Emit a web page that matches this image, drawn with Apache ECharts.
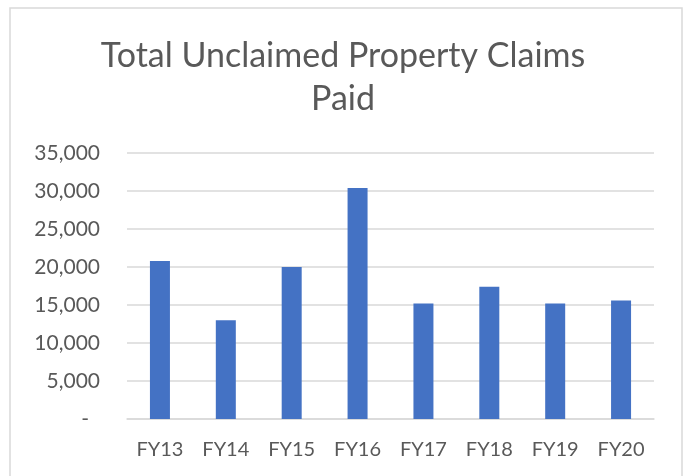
<!DOCTYPE html>
<html>
<head>
<meta charset="utf-8">
<script src="https://cdn.jsdelivr.net/npm/echarts@6/dist/echarts.min.js"></script>
<style>
  html, body { margin: 0; padding: 0; background: #fff; }
  #chart { width: 686px; height: 476px; }
</style>
</head>
<body>
<div id="chart"></div>
<script>
// data
var years = ['FY13', 'FY14', 'FY15', 'FY16', 'FY17', 'FY18', 'FY19', 'FY20']
var claimsPaid = [20800, 13000, 20000, 30400, 15200, 17400, 15200, 15600]
var yMax = 35000
var yStep = 5000

var textColor = '#595959'
var font = 'Lato, "Open Sans", sans-serif'

var chart = echarts.init(document.getElementById('chart'))

var option = {
  animation: false,
  backgroundColor: '#fff',
  title: {
    text: 'Total Unclaimed Property Claims\nPaid',
    left: 'center',
    top: 30,
    textStyle: {
      fontFamily: font,
      fontWeight: 'normal',
      fontSize: 34,
      lineHeight: 43,
      color: textColor
    }
  },
  // chart frame
  graphic: [{
    type: 'rect',
    silent: true,
    shape: { x: 10, y: 8, width: 672, height: 480 },
    style: { fill: 'none', stroke: '#d9d9d9', lineWidth: 1.5 }
  }],
  grid: {
    left: 127,
    right: 32,
    top: 153,
    bottom: 57
  },
  xAxis: {
    type: 'category',
    data: years,
    axisLine: { show: true, lineStyle: { color: '#d9d9d9', width: 1.5 } },
    axisTick: { show: false },
    axisLabel: {
      margin: 21,
      fontFamily: font,
      fontSize: 20,
      color: textColor
    }
  },
  yAxis: {
    type: 'value',
    min: 0,
    max: yMax,
    interval: yStep,
    axisLine: { show: false },
    axisTick: { show: false },
    splitLine: { lineStyle: { color: '#d9d9d9', width: 1.5 } },
    axisLabel: {
      margin: 27,
      fontFamily: font,
      fontSize: 21,
      color: textColor,
      formatter: function (v) {
        if (v === 0) return '{z|-}'
        return v.toLocaleString('en-US')
      },
      rich: {
        z: {
          fontFamily: font,
          fontSize: 21,
          color: textColor,
          padding: [0, 11, 0, 0]
        }
      }
    }
  },
  series: [{
    type: 'bar',
    data: claimsPaid,
    barWidth: 20,
    itemStyle: { color: '#4472c4' }
  }]
}

chart.setOption(option)
</script>
</body>
</html>
